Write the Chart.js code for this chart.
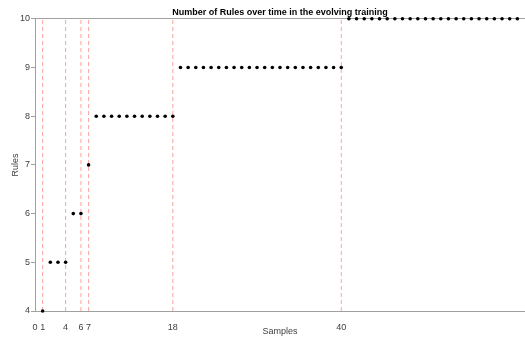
<!DOCTYPE html>
<html>
<head>
<meta charset="utf-8">
<script src="https://cdn.jsdelivr.net/npm/chart.js@4"></script>
<style>
  body { margin: 0; background: #fff; }
  canvas { display: block; }
</style>
</head>
<body>
<canvas id="chart" width="525" height="337"></canvas>
<script>
// Datos
const samples = [1, 2, 3, 4, 5, 6, 7, 8, 9, 10, 11, 12, 13, 14, 15, 16, 17, 18, 19, 20,
  21, 22, 23, 24, 25, 26, 27, 28, 29, 30, 31, 32, 33, 34, 35, 36, 37, 38, 39, 40,
  41, 42, 43, 44, 45, 46, 47, 48, 49, 50, 51, 52, 53, 54, 55, 56, 57, 58, 59, 60,
  61, 62, 63];
const rules = [4, 5, 5, 5, 6, 6, 7, 8, 8, 8, 8, 8, 8, 8, 8, 8, 8, 8, 9, 9,
  9, 9, 9, 9, 9, 9, 9, 9, 9, 9, 9, 9, 9, 9, 9, 9, 9, 9, 9, 9,
  10, 10, 10, 10, 10, 10, 10, 10, 10, 10, 10, 10, 10, 10, 10, 10, 10, 10, 10, 10,
  10, 10, 10];
// Muestras donde se agrega una regla (líneas rojas)
const ruleAdded = [1, 4, 6, 7, 18, 40];
const xTicks = [0, 1, 4, 6, 7, 18, 40];
const yMin = 4;
const yMax = 10;
const xMax = 64;

const FONT = "'Liberation Sans', Arial, sans-serif";
const AXIS_GRAY = '#a0a0a0';
const TEXT_GRAY = '#404040';

const points = samples.map((s, i) => ({ x: s, y: rules[i] }));

const markerSets = ruleAdded.map(s => ({
  type: 'line',
  data: [{ x: s, y: yMin }, { x: s, y: yMax }],
  borderColor: 'rgba(255, 120, 120, 0.7)',
  borderWidth: 1,
  borderDash: [4, 3],
  pointRadius: 0,
  fill: false,
  order: 2
}));

new Chart(document.getElementById('chart'), {
  type: 'scatter',
  data: {
    datasets: [
      {
        data: points,
        backgroundColor: '#000',
        borderColor: '#000',
        pointRadius: 1.8,
        pointBorderWidth: 0,
        clip: false,
        order: 0
      },
      ...markerSets
    ]
  },
  options: {
    responsive: false,
    animation: false,
    layout: { padding: 0, autoPadding: false },
    plugins: {
      legend: { display: false },
      tooltip: { enabled: false },
      title: {
        display: true,
        fullSize: false,
        text: 'Number of Rules over time in the evolving training',
        color: '#000',
        font: { family: FONT, size: 9, weight: 'bold' },
        padding: { top: 7, bottom: 1 }
      }
    },
    scales: {
      x: {
        type: 'linear',
        min: 0,
        max: xMax,
        afterBuildTicks: s => { s.ticks = xTicks.map(v => ({ value: v })); },
        afterFit: s => { s.height = 26; },
        grid: { display: false },
        border: { display: true, color: AXIS_GRAY, width: 1 },
        ticks: {
          color: TEXT_GRAY,
          font: { family: FONT, size: 9 },
          padding: 3,
          maxRotation: 0,
          autoSkip: false
        },
        title: {
          display: true,
          text: 'Samples',
          color: TEXT_GRAY,
          font: { family: FONT, size: 9 },
          padding: { top: 0, bottom: 0 }
        }
      },
      xTop: {
        type: 'linear',
        position: 'top',
        min: 0,
        max: xMax,
        afterFit: s => { s.height = 0; },
        grid: { display: false },
        ticks: { display: false },
        border: { display: true, color: AXIS_GRAY, width: 1 }
      },
      y: {
        min: yMin,
        max: yMax,
        afterFit: s => { s.width = 35; },
        grid: { display: true, drawOnChartArea: false, tickLength: 4, color: AXIS_GRAY },
        border: { display: true, color: AXIS_GRAY, width: 1 },
        ticks: {
          stepSize: 1,
          color: TEXT_GRAY,
          font: { family: FONT, size: 9 },
          padding: 1
        },
        title: {
          display: true,
          text: 'Rules',
          color: TEXT_GRAY,
          font: { family: FONT, size: 9 },
          padding: { top: 10, bottom: 0 }
        }
      }
    }
  }
});
</script>
</body>
</html>
